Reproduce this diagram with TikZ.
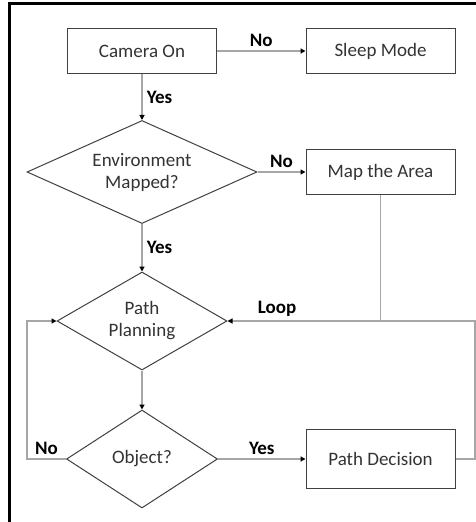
\documentclass[tikz,border=0pt]{standalone}
\usepackage{fontspec}
\setmainfont{Carlito}
\usepackage{xcolor}
\usetikzlibrary{arrows.meta,shapes.geometric}
\definecolor{boxline}{HTML}{404040}
\definecolor{linkgray}{HTML}{A6A6A6}
\definecolor{txtgray}{HTML}{333333}

\begin{document}
\begin{tikzpicture}[
  x=1pt, y=-1pt,
  every node/.style={font=\fontsize{19}{22}\selectfont},
  proc/.style={draw=boxline, line width=1pt, text=txtgray, inner sep=2pt, minimum width=149pt, minimum height=45pt},
  choice/.style={draw=boxline, line width=1pt, text=txtgray, diamond, inner sep=0pt, align=center},
  lbl/.style={font=\fontsize{19}{22}\selectfont\bfseries, text=black, inner sep=4pt},
  link/.style={draw=linkgray, line width=1.5pt},
  arr/.style={link, -{Triangle[length=5pt,width=5pt,color=black]}}
]
\useasboundingbox (0,0) rectangle (476,522);
% frame of the page
\draw[line width=3pt] (9.5,522) -- (9.5,3) -- (476,3);

\node[proc] (cam)   at (142,51)    {Camera On};
\node[proc] (sleep) at (380.5,51)  {Sleep Mode};
\node[choice, aspect=2.23, minimum width=230pt, minimum height=103pt] (envq) at (142,172) {Environment\\Mapped?};
\node[proc] (mapa)  at (380.5,172) {Map the Area};
\node[choice, aspect=1.73, minimum width=170pt, minimum height=98pt] (plan) at (142,321) {Path\\Planning};
\node[choice, aspect=1.54, minimum width=151pt, minimum height=98pt] (objq) at (142,459) {Object?};
\node[proc, minimum height=59pt] (pathd) at (380.5,459) {Path Decision};
\coordinate (nocorner)   at (27,459);
\coordinate (loopcorner) at (475,459);

\draw[arr] (cam) -- node[lbl, above] {No} (sleep);
\draw[arr] (cam) -- node[lbl, right] {Yes} (envq);
\draw[arr] (envq) -- node[lbl, above] {No} (mapa);
\draw[arr] (envq) -- node[lbl, right] {Yes} (plan);
\draw[arr] (plan) -- (objq);
\draw[arr] (objq) -- node[lbl, above] {Yes} (pathd);
\draw[arr] (objq.west) -- node[lbl, above] {No} (nocorner) |- (plan.west);
\draw[arr] (pathd.east) -- (loopcorner) |- node[lbl, above, pos=0.9] {Loop} (plan.east);
\draw[link] (mapa.south) -- (mapa.south |- plan.east);
\end{tikzpicture}
\end{document}
